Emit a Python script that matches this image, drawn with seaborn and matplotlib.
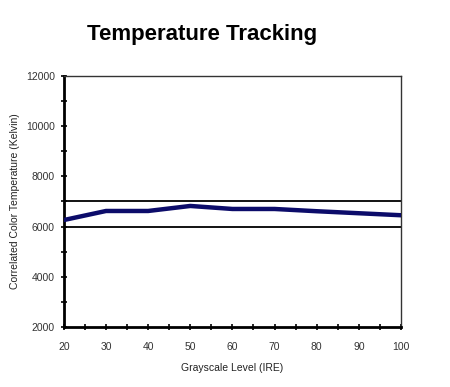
import matplotlib
matplotlib.use("Agg")
import matplotlib.pyplot as plt
import seaborn as sns
import pandas as pd
from matplotlib.ticker import MultipleLocator

ire = [20, 30, 40, 50, 60, 70, 80, 90, 100]
cct = [6260, 6620, 6620, 6820, 6700, 6700, 6610, 6530, 6450]
upper_ref = 7000
lower_ref = 6000

sns.set_style("white")
plt.rcParams['font.family'] = ['Liberation Sans', 'DejaVu Sans']

fig = plt.figure(figsize=(4.5, 3.87), dpi=100)
ax = fig.add_axes([0.142, 0.155, 0.749, 0.649])

df = pd.DataFrame({"ire": ire, "cct": cct})
ax.axhline(upper_ref, color="black", lw=1.3, zorder=1)
ax.axhline(lower_ref, color="black", lw=1.3, zorder=1)
sns.lineplot(data=df, x="ire", y="cct", ax=ax, color="#0c0c6a", lw=3.2, zorder=3)

ax.set_xlim(20, 100)
ax.set_ylim(2000, 12000)
ax.xaxis.set_major_locator(MultipleLocator(10))
ax.xaxis.set_minor_locator(MultipleLocator(5))
ax.yaxis.set_major_locator(MultipleLocator(2000))
ax.yaxis.set_minor_locator(MultipleLocator(1000))
ax.tick_params(which="both", direction="inout", length=5, width=1.2, color="black",
               labelsize=7.5, labelcolor="#333333", bottom=True, left=True)
ax.tick_params(axis="x", pad=8)
ax.tick_params(axis="y", pad=4)
for side in ["left", "bottom"]:
    ax.spines[side].set_linewidth(2)
    ax.spines[side].set_color("black")
for side in ["top", "right"]:
    ax.spines[side].set_linewidth(1)
    ax.spines[side].set_color("#333333")

ax.set_xlabel("Grayscale Level (IRE)", fontsize=7.5, color="#222222", labelpad=8)
ax.set_ylabel("Correlated Color Temperature (Kelvin)", fontsize=7.5, color="#222222", labelpad=4)

fig.text(0.449, 0.912, "Temperature Tracking", fontsize=16, fontweight="bold",
         ha="center", va="center", color="black")

fig.savefig("out.png", dpi=100)
